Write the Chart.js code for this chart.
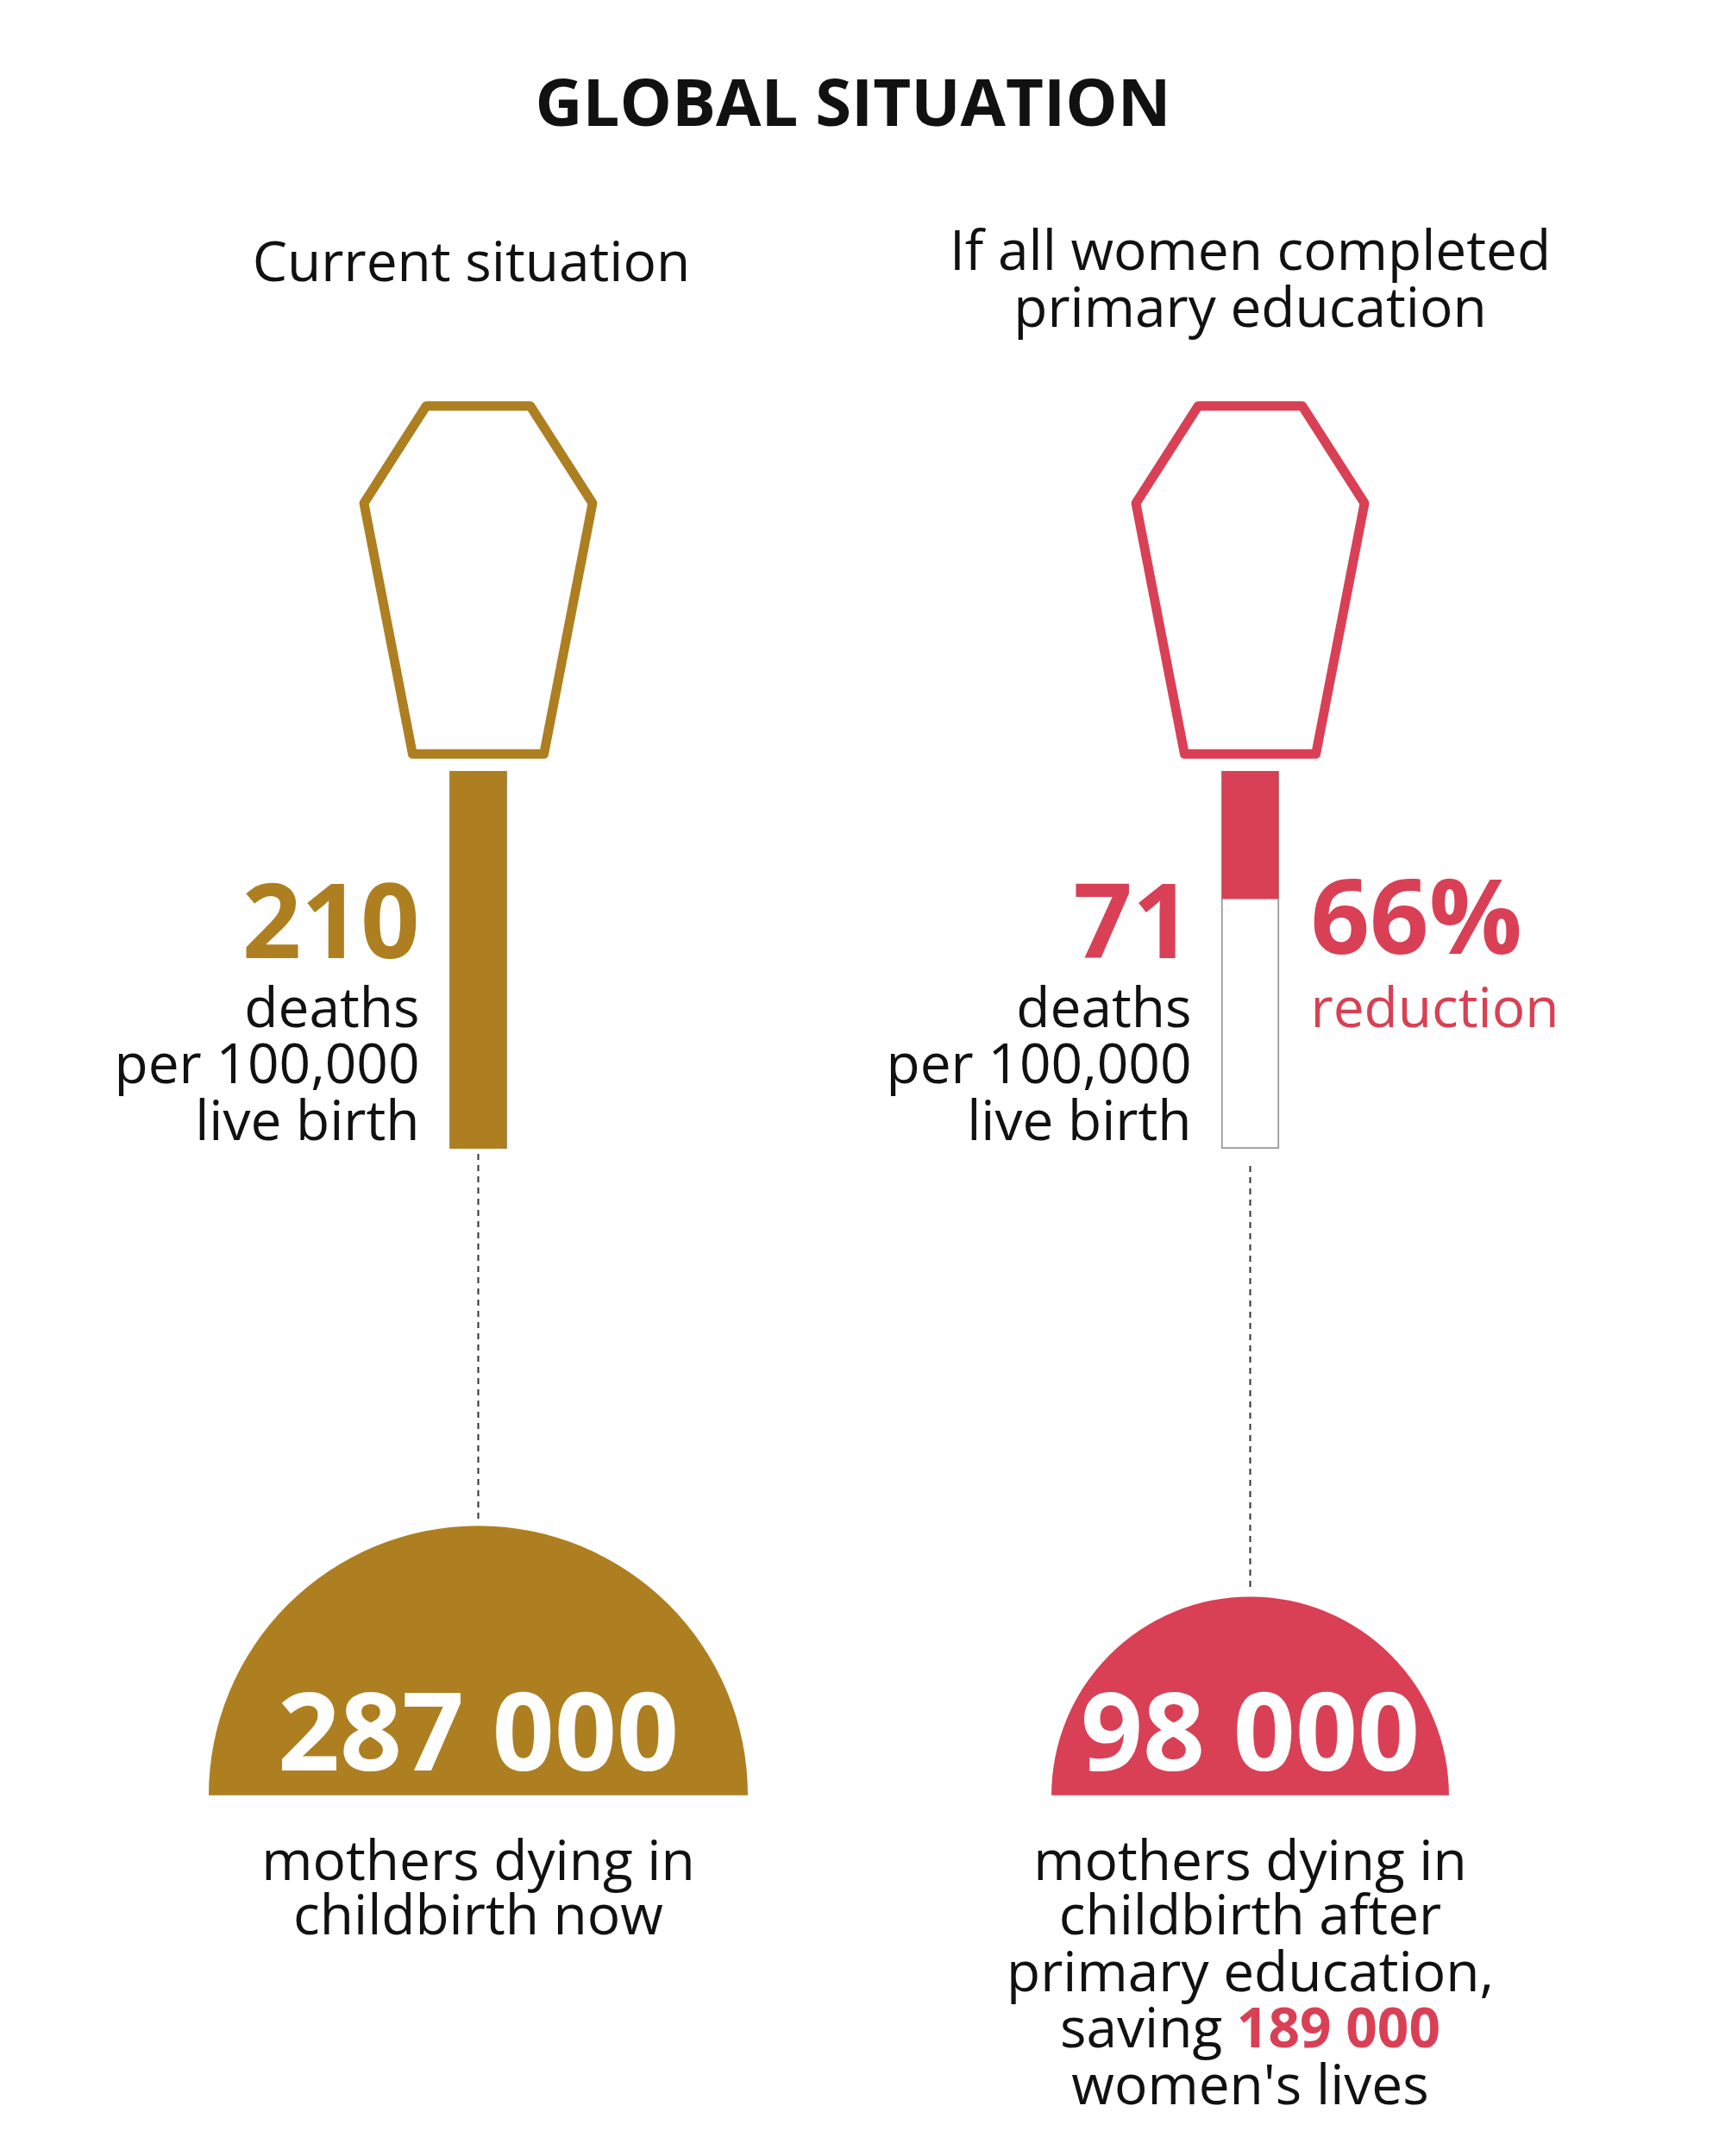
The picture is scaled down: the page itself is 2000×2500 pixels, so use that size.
<!DOCTYPE html>
<html>
<head>
<meta charset="utf-8">
<style>
  html, body { margin: 0; padding: 0; background: #fff; }
  #chart { display: block; }
</style>
<script src="https://cdn.jsdelivr.net/npm/chart.js@4/dist/chart.umd.min.js"></script>
</head>
<body>
<canvas id="chart" width="2000" height="2500"></canvas>
<script>
// data
const categories = ['Current situation', 'If all women completed primary education'];
const deathRates = [210, 71];          // deaths per 100,000 live births
const rateMax = 210;
const mothersDying = [287000, 98000];  // mothers dying in childbirth
const livesSaved = 189000;
const reductionPct = 66;

const GOLD = '#AD7F20';
const RED = '#D94055';
const colors = [GOLD, RED];
const FONT = '"Open Sans", "Noto Sans", sans-serif';
const K = 0.989; // layout scale
const Y = v => v * K;

const fmtThousands = n => String(n).replace(/\B(?=(\d{3})+(?!\d))/g, ' ');

// everything around the bars is anchored to the bar x positions from the scale
const decor = {
  id: 'decor',
  afterDatasetsDraw(chart){
    const c = chart.ctx, x = chart.scales.x, y = chart.scales.y;
    const bottom = y.getPixelForValue(rateMax);
    const semiBase = Y(2105), radii = [Y(316), Y(233)];
    c.save();
    c.textBaseline = 'middle';
    c.fillStyle = '#111';
    c.textAlign = 'center';
    c.font = `bold 76px ${FONT}`;
    c.fillText('GLOBAL SITUATION', Y(1000), Y(126));

    categories.forEach((cat, i) => {
      const cx = x.getPixelForValue(i);
      const col = colors[i];
      // coffin
      c.save();
      c.translate(cx, 0); c.scale(K, K);
      c.strokeStyle = col; c.lineWidth = 11; c.lineJoin = 'round';
      c.beginPath();
      c.moveTo(-61, 476); c.lineTo(61, 476); c.lineTo(134, 590);
      c.lineTo(77, 884); c.lineTo(-77, 884); c.lineTo(-134, 590);
      c.closePath(); c.stroke();
      c.restore();
      // dashed connector
      const r = radii[i];
      c.strokeStyle = '#333'; c.lineWidth = 2; c.setLineDash([7, 6]);
      c.beginPath(); c.moveTo(cx, bottom + (i ? 20 : 6)); c.lineTo(cx, semiBase - r - 6); c.stroke();
      c.setLineDash([]);
      // semicircle
      c.fillStyle = col;
      c.beginPath(); c.arc(cx, semiBase, r, Math.PI, 0); c.closePath(); c.fill();
      c.fillStyle = '#fff'; c.textAlign = 'center';
      c.font = `bold 126px ${FONT}`;
      c.fillText(fmtThousands(mothersDying[i]), cx, Y(2040));
    });

    const lx = x.getPixelForValue(0), rx = x.getPixelForValue(1);
    c.fillStyle = '#111'; c.textAlign = 'center';
    c.font = `64px ${FONT}`;
    c.fillText('Current situation', lx - 8, Y(311));
    c.fillText('If all women completed', rx, Y(298));
    c.fillText('primary education', rx, Y(365));

    // rate labels
    c.textAlign = 'right';
    [[lx - 68, 0], [rx - 68, 1]].forEach(([tx, i]) => {
      c.fillStyle = colors[i]; c.font = `bold 120px ${FONT}`;
      c.fillText(String(deathRates[i]), tx, Y(1089));
      c.fillStyle = '#111'; c.font = `64px ${FONT}`;
      c.fillText('deaths', tx, Y(1186));
      c.fillText('per 100,000', tx, Y(1252));
      c.fillText('live birth', tx, Y(1318));
    });
    c.textAlign = 'left'; c.fillStyle = RED;
    c.font = `bold 120px ${FONT}`;
    c.fillText(reductionPct + '%', rx + 70, Y(1084));
    c.font = `64px ${FONT}`;
    c.fillText('reduction', rx + 70, Y(1186));

    // bottom captions
    c.fillStyle = '#111'; c.textAlign = 'center'; c.font = `64px ${FONT}`;
    c.fillText('mothers dying in', lx, Y(2186));
    c.fillText('childbirth now', lx, Y(2250));
    c.fillText('mothers dying in', rx, Y(2186));
    c.fillText('childbirth after', rx, Y(2250));
    c.fillText('primary education,', rx, Y(2316));
    const a = 'saving ', b = fmtThousands(livesSaved);
    const wa = c.measureText(a).width;
    c.font = `bold 64px ${FONT}`;
    const wb = c.measureText(b).width;
    const sx = rx - (wa + wb) / 2;
    c.textAlign = 'left';
    c.font = `64px ${FONT}`; c.fillStyle = '#111'; c.fillText(a, sx, Y(2382));
    c.font = `bold 64px ${FONT}`; c.fillStyle = RED; c.fillText(b, sx + wa, Y(2382));
    c.textAlign = 'center'; c.font = `64px ${FONT}`; c.fillStyle = '#111';
    c.fillText("women's lives", rx, Y(2449));
    c.restore();
  }
};

new Chart(document.getElementById('chart'), {
  type: 'bar',
  data: {
    labels: categories,
    datasets: [
      { data: deathRates, backgroundColor: colors, borderWidth: 0, grouped: false, barThickness: 65, order: 0 },
      { data: categories.map(() => rateMax), backgroundColor: '#fff', borderColor: '#999', borderWidth: 2, grouped: false, barThickness: 67, order: 1 }
    ]
  },
  options: {
    responsive: false,
    devicePixelRatio: 1,
    animation: false,
    layout: { padding: { left: 107, right: 103, top: 894, bottom: 1168 } },
    scales: {
      x: { display: false },
      y: { display: false, reverse: true, min: 0, max: rateMax }
    },
    plugins: { legend: { display: false }, tooltip: { enabled: false } }
  },
  plugins: [decor]
});
</script>
</body>
</html>
